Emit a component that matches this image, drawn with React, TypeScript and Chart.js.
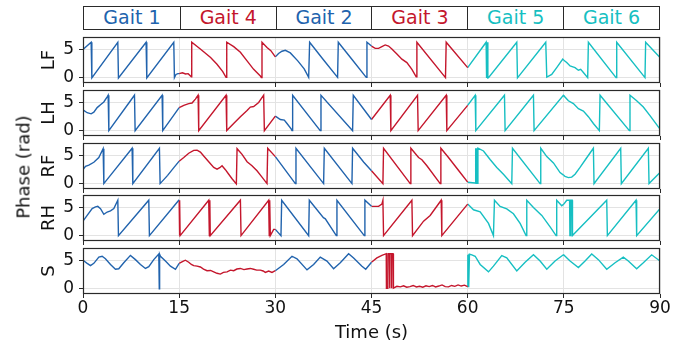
import React, { useEffect, useRef } from "react";
import { Chart, registerables } from "chart.js";

Chart.register(...registerables);

// ---------- data: [time (s), phase (rad)] vertices per gait window ----------
const gaitLabels = ["Gait 1", "Gait 4", "Gait 2", "Gait 3", "Gait 5", "Gait 6"];
const panelNames = ["LF", "LH", "RF", "RH", "S"];
const xTicks = [0, 15, 30, 45, 60, 75, 90];
const yTicks = [0, 5];

const lfGait1 = [[0,5.0],[1.27,6.28],[1.38,0],[5.43,6.28],[5.53,0],[9.84,6.28],[9.95,0],[14.16,6.28],[14.26,0.05],[14.5,0.6],[14.8,0.75],[15.0,0.75]];
const lfGait4 = [[15.0,0.75],[15.5,0.9],[16.0,0.7],[16.4,0.75],[16.9,0.2],[16.96,6.28],[18.3,5.1],[19.9,3.6],[20.9,2.4],[21.8,1.1],[22.31,0.1],[22.42,6.28],[23.51,5.5],[24.55,4.5],[25.59,3.0],[26.62,1.5],[27.66,0.35],[27.82,0.05],[27.92,6.28],[28.7,5.35],[29.3,4.8],[30.0,3.7]];
const lfGait2 = [[30.0,3.7],[30.5,4.3],[31.04,4.7],[31.56,4.85],[32.34,4.4],[33.5,3.0],[34.5,1.6],[35.2,0.1],[35.35,6.28],[37.5,3.2],[39.71,0.1],[39.82,6.28],[42.0,3.2],[44.18,0.1],[44.29,6.28],[45.0,5.6]];
const lfGait3 = [[45.0,5.6],[45.58,5.2],[46.1,5.2],[46.62,5.5],[47.14,5.8],[47.66,5.6],[48.18,5.1],[48.96,4.2],[49.74,3.3],[50.52,2.7],[51.3,1.5],[51.97,0.2],[52.08,6.28],[56.54,0.05],[56.65,6.28],[60.0,1.8]];
const lfGait5 = [[60.0,1.8],[62.88,6.28],[62.95,0],[63.05,6.28],[63.15,0],[63.25,0.05],[67.66,6.28],[67.77,0],[72.18,6.28],[72.34,0.15],[73.11,0.6],[73.89,1.8],[74.83,3.3],[75.0,3.1]];
const lfGait6 = [[75.0,3.1],[75.45,2.7],[75.97,2.1],[76.75,1.8],[77.27,1.35],[77.63,1.5],[78.05,0.95],[78.72,0.05],[78.83,6.28],[83.14,0.05],[83.25,6.28],[87.66,0.05],[87.76,6.28],[90.0,3.6]];

const lhGait1 = [[0,3.7],[0.65,3.2],[1.27,3.0],[1.69,3.3],[2.21,4.1],[2.73,4.6],[3.25,5.1],[3.77,6.0],[3.92,6.28],[4.03,0.05],[8.03,6.28],[8.13,0.05],[12.34,6.28],[12.44,0.05],[15.0,4.1]];
const lhGait4 = [[15.0,4.1],[15.72,4.5],[16.49,4.8],[17.01,4.9],[17.53,5.6],[17.95,6.28],[18.05,0.05],[22.31,6.28],[22.42,0.05],[23.5,1.3],[24.55,2.5],[25.59,3.6],[26.1,4.2],[26.62,4.3],[27.4,5.0],[28.18,6.28],[28.29,0.05],[30.0,2.6]];
const lhGait2 = [[30.0,2.6],[30.78,2.0],[31.4,1.9],[31.82,1.3],[32.49,0.3],[32.6,0.05],[32.7,6.28],[37.0,0.05],[37.12,6.28],[42.05,0.05],[42.16,6.28],[45.0,2.0]];
const lhGait3 = [[45.0,2.0],[47.92,6.28],[48.02,0.05],[52.18,6.28],[52.28,0.05],[56.65,6.28],[56.75,0.05],[60.0,4.5]];
const lhGait5 = [[60.0,4.5],[61.17,6.28],[61.27,0.05],[65.74,6.28],[65.84,0.05],[70.26,6.28],[70.36,0.05],[74.93,6.28],[75.0,6.2]];
const lhGait6 = [[75.0,6.2],[75.71,5.3],[76.49,4.8],[77.27,3.9],[78.05,3.5],[78.83,2.5],[79.61,1.3],[80.54,0.05],[80.65,6.28],[85.22,0.05],[85.32,6.28],[86.36,5.3],[87.4,4.2],[88.44,2.7],[90.0,0.3]];

const rfGait1 = [[0,2.5],[0.39,3.1],[0.91,3.3],[1.69,3.8],[2.47,4.65],[3.14,6.2],[3.25,0.05],[7.66,6.28],[7.77,0.05],[11.92,6.28],[12.03,0.05],[13.2,1.5],[14.2,2.9],[15.0,4.0]];
const rfGait4 = [[15.0,4.0],[15.72,4.65],[16.49,5.4],[17.27,5.9],[17.79,5.95],[18.31,5.6],[18.83,4.9],[19.61,3.9],[20.39,2.9],[20.91,2.6],[21.33,2.85],[21.69,3.2],[22.21,2.5],[22.73,1.7],[23.25,0.9],[23.92,0.0],[24.03,6.2],[24.81,5.2],[25.59,3.9],[26.36,3.2],[27.14,2.3],[27.92,1.2],[28.7,0.05],[28.81,6.28],[30.0,4.8]];
const rfGait2 = [[30.0,4.8],[33.12,0.05],[33.22,6.28],[37.53,0.05],[37.64,6.28],[41.95,0.05],[42.05,6.28],[43.8,3.8],[45.0,2.3]];
const rfGait3 = [[45.0,2.3],[46.78,0.05],[46.88,6.28],[51.04,0.05],[51.14,6.28],[52.34,4.65],[52.86,4.25],[53.64,3.2],[55.71,0.05],[55.82,6.28],[57.01,4.65],[58.83,2.0],[60.0,0.3]];
const rfGait5 = [[60.0,0.3],[61.17,0.15],[61.25,6.28],[61.32,0.1],[61.45,6.28],[61.5,0.1],[61.6,6.28],[62.47,5.8],[63.5,4.3],[64.54,2.9],[65.58,1.7],[66.88,0.05],[66.99,6.28],[71.3,0.05],[71.4,6.28],[72.34,4.8],[73.38,3.7],[74.41,2.0],[75.0,1.5]];
const rfGait6 = [[75.0,1.5],[75.19,1.3],[75.71,1.1],[76.23,1.2],[76.75,1.7],[77.53,2.9],[78.57,4.6],[79.61,6.28],[79.71,0.05],[83.87,6.28],[83.97,0.05],[88.18,6.28],[88.29,0.05],[90.0,2.0]];

const rhGait1 = [[0,2.6],[0.65,3.6],[1.43,4.8],[1.95,5.1],[2.31,5.2],[2.73,4.8],[3.25,3.8],[3.77,4.2],[4.29,4.4],[4.81,4.8],[5.43,6.28],[5.53,0.05],[10.26,6.28],[10.36,0.05],[14.94,6.28],[15.0,6.28]];
const rhGait4 = [[15.0,6.28],[15.04,0.05],[15.1,6.28],[15.15,0.05],[19.61,6.28],[19.71,0.05],[19.78,6.28],[19.85,0.05],[24.55,6.28],[24.65,0.05],[28.96,6.28],[29.05,0.05],[29.12,6.28],[29.22,0.05],[29.74,1.15],[30.0,1.15]];
const rhGait2 = [[30.0,1.15],[30.1,1.15],[30.88,0.05],[30.99,6.28],[35.2,0.05],[35.3,6.28],[37.5,3.2],[37.8,3.0],[39.51,0.05],[39.61,6.28],[43.87,0.05],[43.97,6.28],[45.0,5.2]];
const rhGait3 = [[45.0,5.2],[46.1,5.2],[46.62,5.6],[46.78,6.28],[46.88,0.05],[51.3,6.28],[51.4,0.05],[53.12,2.6],[54.15,3.6],[55.87,6.28],[55.97,0.05],[60.0,5.6]];
const rhGait5 = [[60.0,5.6],[60.91,4.6],[61.95,4.25],[63.25,2.2],[64.02,0.05],[64.18,6.28],[65.06,5.2],[66.1,4.75],[67.14,3.9],[68.18,2.2],[69.11,0.05],[69.22,6.28],[70.26,5.0],[71.56,3.6],[72.86,1.6],[73.79,0.05],[73.89,6.28],[74.67,5.3],[75.0,5.6]];
const rhGait6 = [[75.0,5.6],[75.45,6.28],[75.9,6.28],[75.95,0.05],[76.05,0.05],[76.1,6.28],[76.3,6.28],[76.35,0.05],[81.69,6.28],[81.79,0.05],[86.26,6.28],[86.36,0.05],[90.0,4.8]];

const sGait1 = [[0,5.05],[0.65,4.5],[1.17,4.1],[1.69,4.5],[2.47,5.6],[2.99,5.75],[3.5,5.3],[4.29,4.3],[5.06,3.45],[5.58,3.55],[6.36,4.6],[7.4,5.9],[8.18,5.15],[8.96,4.3],[9.74,3.6],[10.26,3.9],[11.04,5.15],[11.82,6.15],[11.9,0.0],[11.95,6.1],[12.08,5.75],[12.86,4.9],[13.64,4.0],[14.42,3.45],[15.0,4.5]];
const sGait4 = [[15.0,4.5],[15.5,4.8],[15.97,5.05],[16.49,4.7],[16.9,4.3],[17.27,4.1],[17.8,4.0],[18.31,3.85],[18.8,3.5],[19.35,3.2],[19.9,3.25],[20.39,3.0],[20.9,2.75],[21.43,2.6],[21.9,2.9],[22.47,3.0],[23.0,3.3],[23.51,3.2],[24.0,3.5],[24.55,3.6],[25.1,3.4],[25.59,3.5],[26.1,3.6],[26.62,3.45],[27.1,3.3],[27.66,3.3],[28.1,3.15],[28.44,2.9],[28.96,3.15],[29.48,2.9],[30.0,3.2]];
const sGait2 = [[30.0,3.2],[31.3,4.3],[32.6,5.75],[33.38,5.3],[34.94,3.35],[35.97,4.3],[37.01,5.6],[38.05,4.9],[39.09,3.55],[40.13,4.6],[41.43,6.2],[42.21,5.45],[43.51,4.0],[44.1,3.45],[45.0,4.7]];
const sGait3 = [[45.0,4.7],[45.84,5.45],[46.62,5.9],[47.3,6.2],[47.33,0.1],[47.55,0.1],[47.58,6.2],[47.8,6.2],[47.83,0.1],[47.87,6.2],[48.1,6.2],[48.13,0.1],[48.16,6.2],[48.36,6.2],[48.4,0.1],[48.44,0.15],[48.96,0.45],[49.5,0.35],[50.0,0.55],[50.5,0.3],[51.0,0.4],[51.5,0.6],[52.0,0.35],[52.5,0.45],[53.0,0.3],[53.5,0.55],[54.0,0.4],[54.5,0.6],[55.0,0.35],[55.5,0.5],[56.0,0.7],[56.5,0.4],[57.0,0.35],[57.5,0.6],[58.0,0.45],[58.5,0.7],[59.0,0.5],[59.5,0.65],[60.0,0.4]];
const sGait5 = [[60.0,0.4],[60.03,6.0],[60.08,0.4],[60.13,6.1],[60.2,0.4],[60.28,6.1],[60.65,6.0],[61.17,5.75],[61.95,4.3],[63.25,3.0],[64.02,4.0],[65.32,5.85],[66.1,5.45],[67.66,3.15],[68.96,4.7],[70.26,6.0],[71.3,4.9],[72.34,3.45],[73.63,4.9],[74.93,6.0],[75.0,5.95]];
const sGait6 = [[75.0,5.95],[75.97,4.9],[77.27,3.75],[78.31,4.9],[79.35,6.15],[80.39,5.15],[81.69,3.45],[82.99,4.6],[84.28,5.6],[85.06,4.9],[86.36,3.55],[87.4,4.6],[88.7,6.0],[90.0,4.9]];

const panelData = [
  [lfGait1, lfGait4, lfGait2, lfGait3, lfGait5, lfGait6],
  [lhGait1, lhGait4, lhGait2, lhGait3, lhGait5, lhGait6],
  [rfGait1, rfGait4, rfGait2, rfGait3, rfGait5, rfGait6],
  [rhGait1, rhGait4, rhGait2, rhGait3, rhGait5, rhGait6],
  [sGait1, sGait4, sGait2, sGait3, sGait5, sGait6],
];

// ---------- styling ----------
const BLUE = "#2163ad";
const RED = "#c4162c";
const CYAN = "#16bfc2";
const segColors = [BLUE, RED, BLUE, RED, CYAN, CYAN];
const FONT = "'DejaVu Sans', sans-serif";
const W = 694;
const PLOT_LEFT = 83;
const PLOT_RIGHT = 660;
const PANEL_TOPS = [37, 90, 143, 195, 248];
const PANEL_H = 46;
const PAD_TOP = 4;

const framePlugin = {
  id: "frame",
  afterDatasetsDraw(chart: any) {
    const { ctx, chartArea } = chart;
    ctx.save();
    ctx.strokeStyle = "#2a2a2a";
    ctx.lineWidth = 1.2;
    ctx.strokeRect(
      Math.round(chartArea.left) + 0.5,
      Math.round(chartArea.top) + 0.5,
      Math.round(chartArea.right - chartArea.left) - 1,
      Math.round(chartArea.bottom - chartArea.top) - 1
    );
    ctx.restore();
  },
};

function zeroPad(s: any) {
  s.paddingTop = 0;
  s.paddingBottom = 0;
  s.paddingLeft = 0;
  s.paddingRight = 0;
}

function Panel({ idx }: { idx: number }) {
  const ref = useRef<HTMLCanvasElement | null>(null);
  const isLast = idx === panelNames.length - 1;
  const xH = isLast ? 344 - (PANEL_TOPS[idx] + PANEL_H) : 6;
  const canvasTop = PANEL_TOPS[idx] - PAD_TOP;
  const canvasH = PAD_TOP + PANEL_H + xH;

  useEffect(() => {
    if (!ref.current) return;
    const chart = new Chart(ref.current, {
      type: "line",
      data: {
        datasets: panelData[idx].map((seg, i) => ({
          data: seg.map(([x, y]) => ({ x, y })),
          borderColor: segColors[i],
          borderWidth: 1.4,
          pointRadius: 0,
          tension: 0,
          fill: false,
        })),
      },
      options: {
        animation: false,
        responsive: false,
        maintainAspectRatio: false,
        events: [],
        plugins: { legend: { display: false }, tooltip: { enabled: false } },
        layout: { autoPadding: false, padding: { left: 33, right: W - PLOT_RIGHT, top: PAD_TOP, bottom: 0 } },
        scales: {
          x: {
            type: "linear",
            min: 0,
            max: 90,
            afterBuildTicks: (s: any) => {
              s.ticks = xTicks.map((v) => ({ value: v }));
            },
            ticks: {
              display: isLast,
              font: { family: FONT, size: 17 },
              color: "#111",
              padding: 0,
              maxRotation: 0,
              autoSkip: false,
            },
            grid: { color: "#e3e3e3", lineWidth: 1, tickColor: "#2a2a2a", tickLength: 4, drawTicks: true },
            border: { display: false },
            title: {
              display: isLast,
              text: "Time (s)",
              font: { family: FONT, size: 18 },
              color: "#111",
              padding: { top: 0, bottom: 0 },
            },
            afterFit: (s: any) => {
              s.height = xH;
              zeroPad(s);
            },
          },
          y: {
            min: -0.9,
            max: 7.2,
            afterBuildTicks: (s: any) => {
              s.ticks = yTicks.map((v) => ({ value: v }));
            },
            ticks: { font: { family: FONT, size: 17 }, color: "#111", padding: 5 },
            grid: { color: "#e3e3e3", lineWidth: 1, tickColor: "#2a2a2a", tickLength: 4, drawTicks: true },
            border: { display: false },
            title: {
              display: true,
              text: panelNames[idx],
              font: { family: FONT, size: 18 },
              color: "#111",
              padding: { top: 6, bottom: 0 },
            },
            afterFit: (s: any) => {
              s.width = PLOT_LEFT - 33;
              zeroPad(s);
            },
          },
        },
      } as any,
      plugins: [framePlugin],
    });
    return () => chart.destroy();
  }, [idx]);

  return (
    <canvas
      ref={ref}
      width={W}
      height={canvasH}
      style={{ position: "absolute", left: 0, top: canvasTop, width: W, height: canvasH }}
    />
  );
}

function Header() {
  const cellW = (PLOT_RIGHT - PLOT_LEFT) / gaitLabels.length;
  return (
    <div
      style={{
        position: "absolute",
        left: PLOT_LEFT,
        top: 6,
        width: PLOT_RIGHT - PLOT_LEFT,
        height: 24,
        boxSizing: "border-box",
        border: "1.2px solid #2a2a2a",
        display: "flex",
      }}
    >
      {gaitLabels.map((g, i) => (
        <div
          key={g}
          style={{
            width: cellW,
            boxSizing: "border-box",
            borderLeft: i > 0 ? "1.2px solid #2a2a2a" : "none",
            color: segColors[i],
            font: `19px ${FONT}`,
            lineHeight: "21px",
            textAlign: "center",
            whiteSpace: "nowrap",
          }}
        >
          {g}
        </div>
      ))}
    </div>
  );
}

export default function App() {
  useEffect(() => {
    document.body.style.margin = "0";
  }, []);
  return (
    <div style={{ position: "relative", width: W, height: 344, background: "#fff", overflow: "hidden" }}>
      <Header />
      {panelNames.map((_, i) => (
        <Panel key={i} idx={i} />
      ))}
      <div
        style={{
          position: "absolute",
          left: 23,
          top: 167,
          transform: "translate(-50%, -50%) rotate(-90deg)",
          whiteSpace: "nowrap",
          font: `18px ${FONT}`,
          color: "#111",
        }}
      >
        Phase (rad)
      </div>
    </div>
  );
}
